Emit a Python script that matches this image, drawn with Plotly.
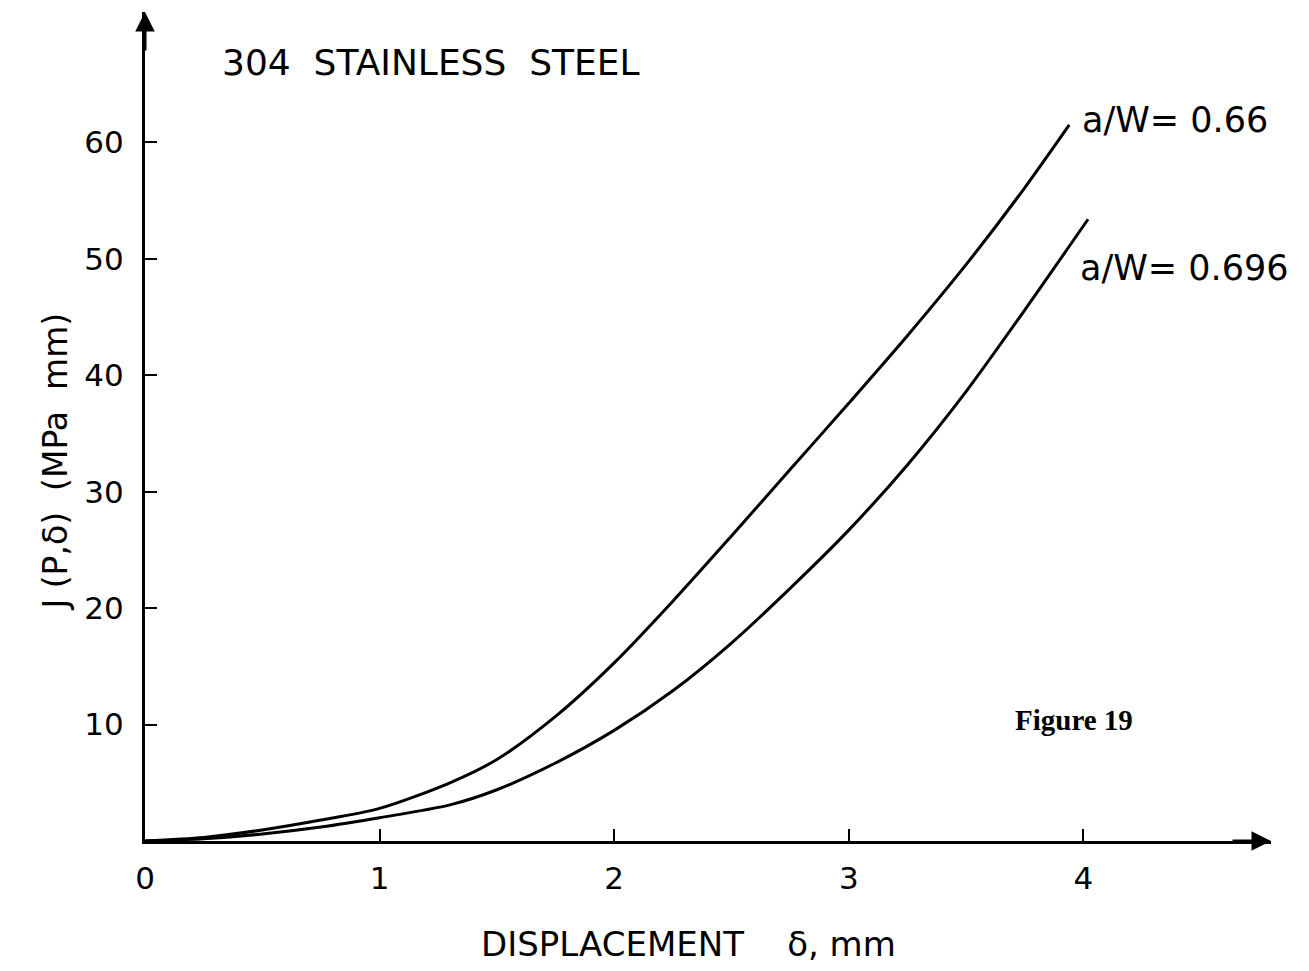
import plotly.graph_objects as go

# Displacement (mm) and J (MPa mm)
disp_066 = [0, 0.25, 0.5, 0.75, 1.0, 1.3, 1.5, 1.75, 2.0, 2.25, 2.5, 2.75, 3.0, 3.25, 3.5, 3.75, 3.94]
j_066 = [0, 0.3, 0.95, 1.8, 2.8, 5.0, 7.0, 10.7, 15.3, 20.6, 26.2, 31.9, 37.6, 43.4, 49.5, 56.1, 61.5]

disp_0696 = [0, 0.25, 0.5, 0.75, 1.0, 1.3, 1.5, 1.75, 2.0, 2.25, 2.5, 2.75, 3.0, 3.25, 3.5, 3.75, 4.02]
j_0696 = [0, 0.2, 0.6, 1.2, 2.0, 3.1, 4.4, 6.7, 9.5, 12.9, 17.0, 21.7, 26.7, 32.3, 38.6, 45.6, 53.4]

x_ticks = [0, 1, 2, 3, 4]
x_ticklabels = ["0", "1", "2", "3", "4"]
y_ticks = [10, 20, 30, 40, 50, 60]
y_ticklabels = ["10", "20", "30", "40", "50", "60"]

labels = ["a/W= 0.66", "a/W= 0.696"]

FONT = "DejaVu Sans"
X_MAX = 4.8
Y_MAX = 71.2

fig = go.Figure()
for xs, ys, name in [(disp_066, j_066, labels[0]), (disp_0696, j_0696, labels[1])]:
    fig.add_trace(go.Scatter(
        x=xs, y=ys, mode="lines", name=name,
        line=dict(color="black", width=3, shape="spline", smoothing=0.8),
        cliponaxis=False, showlegend=False,
    ))

fig.update_layout(
    width=1309, height=971,
    margin=dict(l=145, r=1309 - 145 - int(round(X_MAX * 234.5)), t=971 - 130 - int(round(Y_MAX * 11.65)), b=130),
    paper_bgcolor="white", plot_bgcolor="white",
    font=dict(family=FONT, color="black"),
    xaxis=dict(
        range=[0, X_MAX], showgrid=False, zeroline=False,
        showline=True, linecolor="black", linewidth=3,
        ticks="inside", ticklen=12, tickwidth=2, tickcolor="black",
        tickvals=x_ticks, ticktext=x_ticklabels,
        tickfont=dict(size=31, family=FONT), ticklabelstandoff=8,
    ),
    yaxis=dict(
        range=[0, Y_MAX], showgrid=False, zeroline=False,
        showline=True, linecolor="black", linewidth=3,
        ticks="inside", ticklen=12, tickwidth=2, tickcolor="black",
        tickvals=y_ticks, ticktext=y_ticklabels,
        tickfont=dict(size=31, family=FONT), ticklabelstandoff=12,
    ),
)

# Arrow heads on axes
fig.add_annotation(x=X_MAX, y=0, xref="x", yref="y", ax=-40, ay=0,
                   showarrow=True, arrowhead=2, arrowsize=1.3, arrowwidth=3, arrowcolor="black", text="")
fig.add_annotation(x=0, y=Y_MAX, xref="x", yref="y", ax=0, ay=40,
                   showarrow=True, arrowhead=2, arrowsize=1.3, arrowwidth=3, arrowcolor="black", text="")

# Titles / labels
fig.add_annotation(text="304  STAINLESS  STEEL", xref="paper", yref="paper", x=0, y=0,
                   showarrow=False, font=dict(size=36, family=FONT), xanchor="left", yanchor="middle")
fig.add_annotation(text="DISPLACEMENT    δ, mm", xref="paper", yref="paper", x=0, y=0,
                   showarrow=False, font=dict(size=34, family=FONT), yanchor="middle")
fig.add_annotation(text="J (P,δ)  (MPa  mm)", xref="paper", yref="paper", x=0, y=0, textangle=-90,
                   showarrow=False, font=dict(size=33, family=FONT), yanchor="middle")
fig.add_annotation(text=labels[0], xref="paper", yref="paper", x=0, y=0,
                   showarrow=False, font=dict(size=35, family=FONT), xanchor="left", yanchor="middle")
fig.add_annotation(text=labels[1], xref="paper", yref="paper", x=0, y=0,
                   showarrow=False, font=dict(size=35, family=FONT), xanchor="left", yanchor="middle")
fig.add_annotation(text="<b>Figure 19</b>", xref="paper", yref="paper", x=0, y=0,
                   showarrow=False, font=dict(size=29, family="Liberation Serif"), xanchor="left", yanchor="middle")

# Convert pixel positions to paper coordinates
m = fig.layout.margin
pw = 1309 - m.l - m.r
ph = 971 - m.t - m.b
def to_paper(px, py):
    return (px - m.l) / pw, (971 - m.b - py) / ph

positions = [(220, 62), (688, 944), (33, 462), (1080, 120), (1078, 268), (1013, 720)]
anns = list(fig.layout.annotations)
for ann, (px, py) in zip(anns[2:], positions):
    xp, yp = to_paper(px, py)
    ann.x = xp
    ann.y = yp
fig.layout.annotations = anns

fig.write_html("out.html")
